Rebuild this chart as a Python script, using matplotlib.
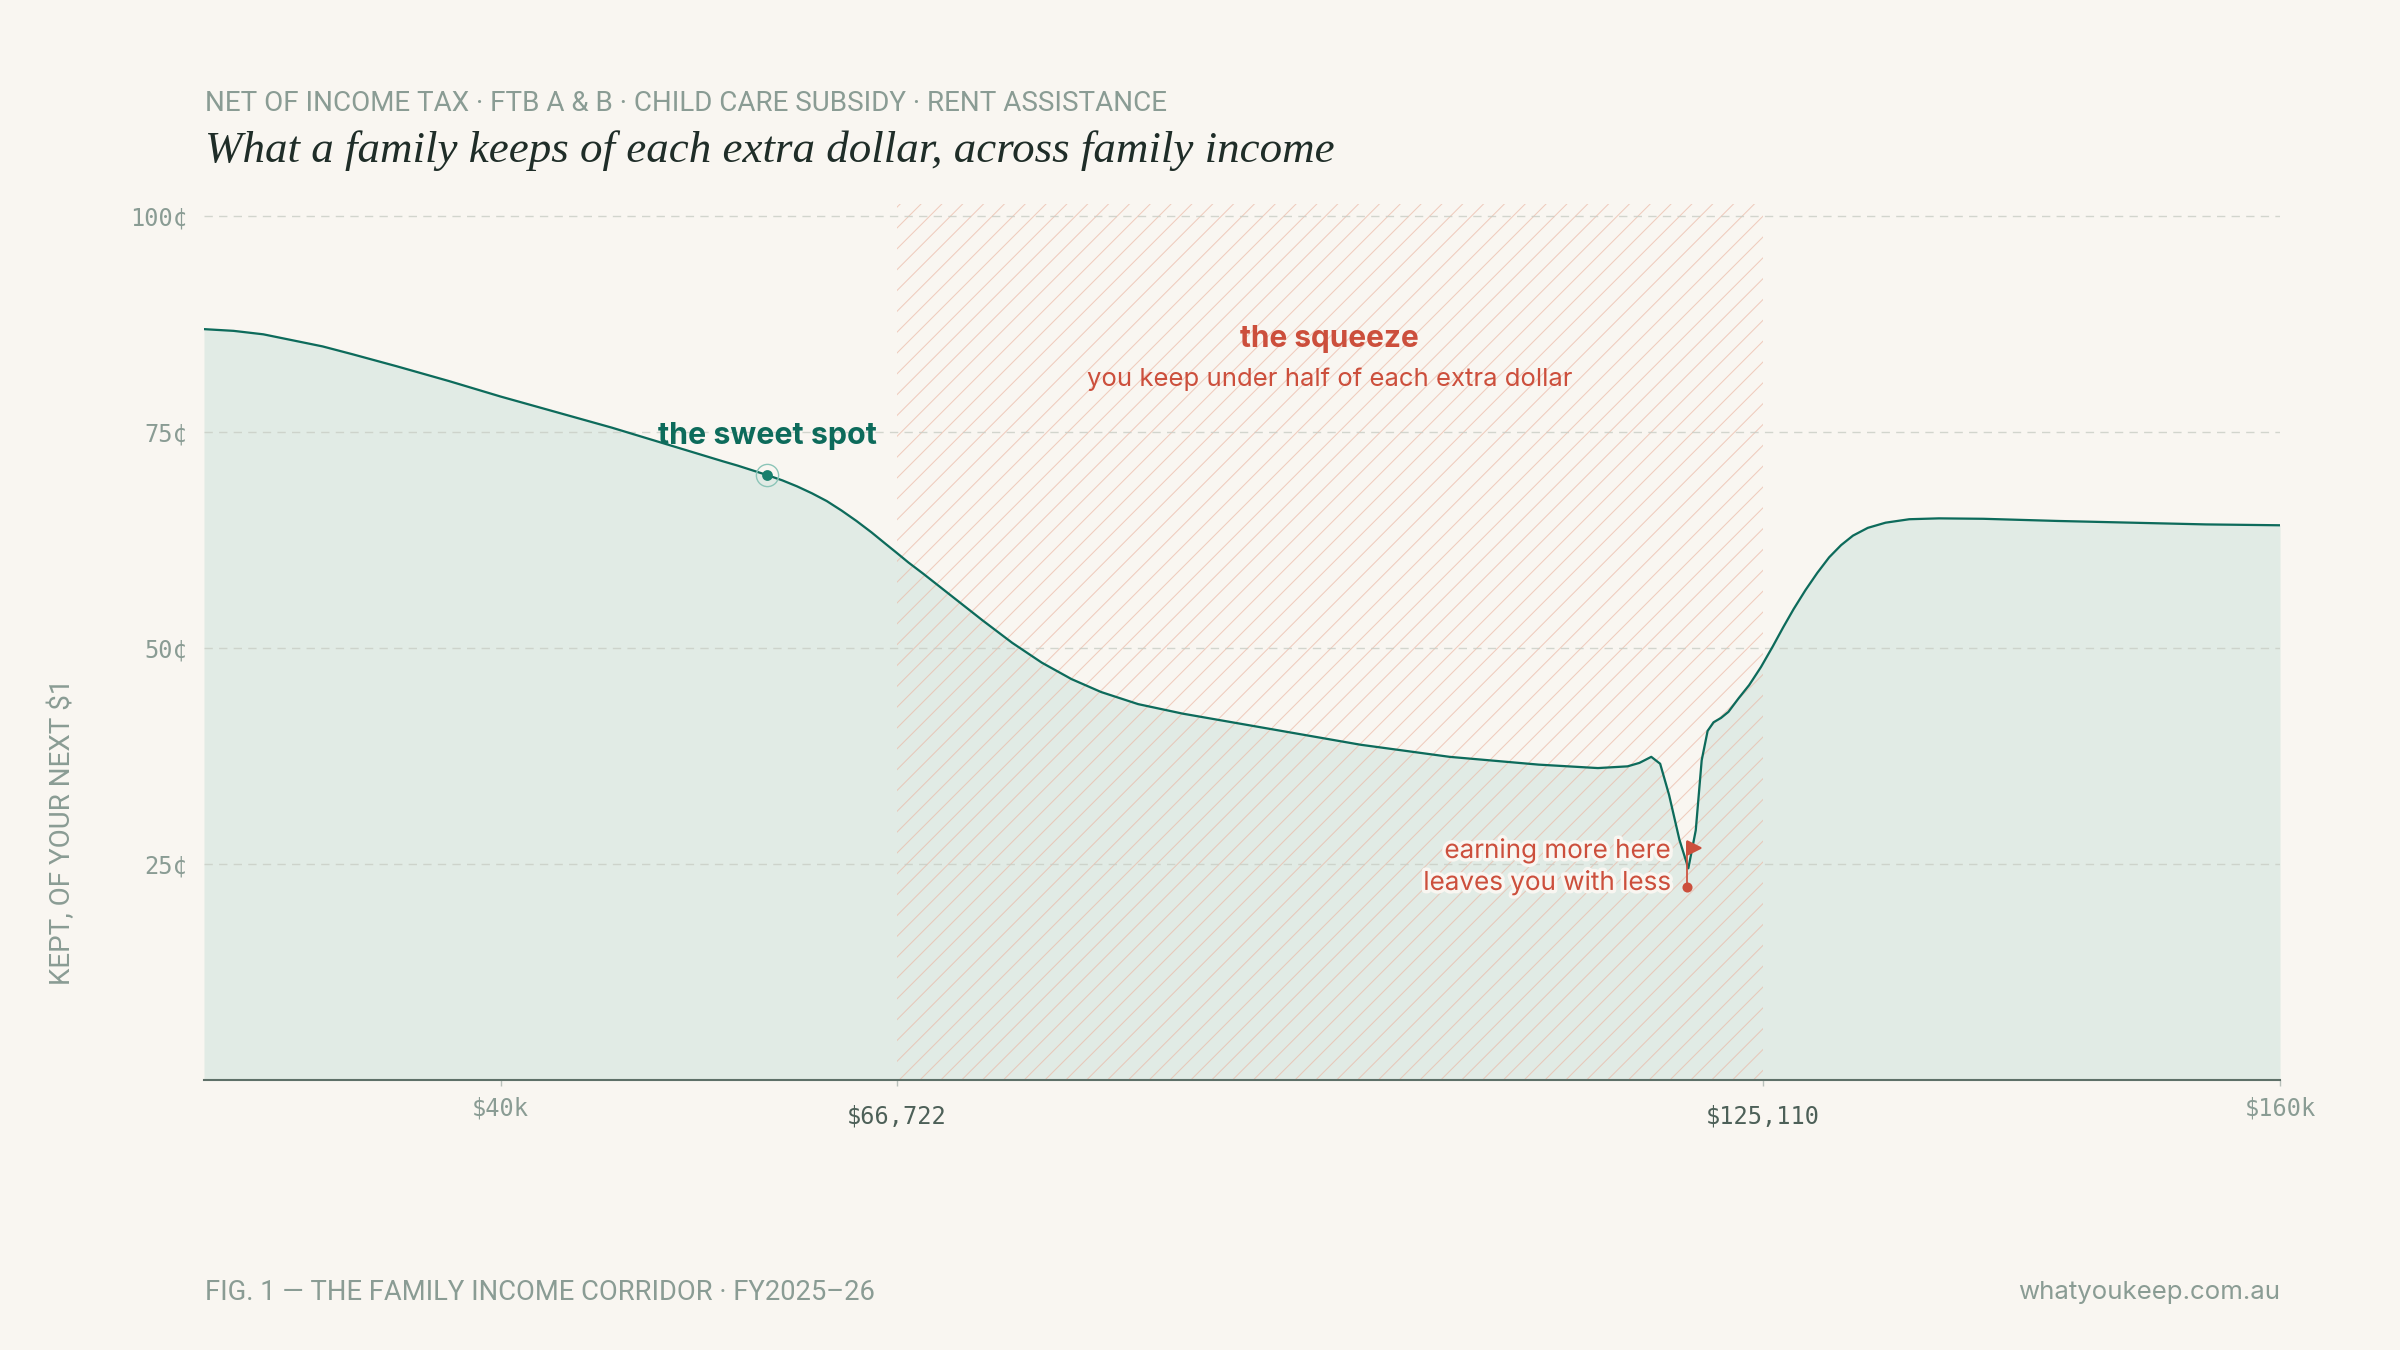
import matplotlib
matplotlib.use("Agg")
import matplotlib.pyplot as plt
import matplotlib.patheffects as pe
from matplotlib.transforms import offset_copy

# --- data ------------------------------------------------------------------
income = [20000, 22000, 24000, 26000, 28000, 30000, 33000, 36500, 40000, 42500,
          45000, 47500, 50000, 52500, 55000, 56000, 57000, 58000, 59000, 60000,
          61000, 62000, 63000, 64000, 65000, 66000, 66722, 67500, 68500, 70500,
          72500, 74500, 76500, 78500, 80500, 83000, 86000, 90000, 94000, 98000,
          104000, 110000, 114000, 116000, 116800, 117600, 118200, 118800, 119500,
          120100, 120600, 121000, 121400, 121800, 122300, 122800, 123500, 124200,
          125000, 125800, 126500, 127200, 128000, 128800, 129600, 130400, 131200,
          132200, 133400, 135000, 137000, 140000, 145000, 150000, 155000, 160000]
kept = [86.9, 86.7, 86.3, 85.6, 84.9, 84.0, 82.6, 80.9, 79.1, 77.9,
        76.7, 75.5, 74.2, 72.9, 71.6, 71.1, 70.55, 70.0, 69.4, 68.7,
        67.9, 67.0, 65.9, 64.7, 63.4, 62.0, 61.0, 59.9, 58.6, 55.9,
        53.2, 50.6, 48.3, 46.4, 44.9, 43.5, 42.4, 41.2, 40.0, 38.8,
        37.4, 36.5, 36.1, 36.3, 36.7, 37.4, 36.6, 33.0, 27.8,
        24.5, 28.9, 37.0, 40.4, 41.4, 41.9, 42.6, 44.2, 45.7,
        47.8, 50.2, 52.4, 54.5, 56.7, 58.7, 60.5, 61.9, 63.0,
        63.9, 64.5, 64.9, 65.0, 64.95, 64.7, 64.5, 64.3, 64.2]

squeeze_start = 66722
squeeze_end = 125110
sweet_x, sweet_y = 58000, 70.0
flag_x, flag_bottom, flag_top = 120000, 22.3, 27.4

x_ticks = [40000, 66722, 125110, 160000]
x_labels = ["$40k", "$66,722", "$125,110", "$160k"]
y_ticks = [25, 50, 75, 100]
y_labels = ["25¢", "50¢", "75¢", "100¢"]

# --- style ------------------------------------------------------------------
bg = "#f9f6f1"
teal = "#0d6b5b"
fill_green = "#e1ebe5"
coral = "#cc4f3c"
muted = "#8a9c94"
dark_tick = "#4d6058"
narrow = ["Roboto", "DejaVu Sans"]
sans = ["Inter", "DejaVu Sans"]
mono = ["DejaVu Sans Mono"]

plt.rcParams["hatch.linewidth"] = 0.6

fig = plt.figure(figsize=(19.2, 10.8), dpi=125, facecolor=bg)
ax = fig.add_axes([0.085, 0.2, 0.865, 0.649])
ax.set_facecolor(bg)

ax.fill_between(income, kept, 0, color=fill_green, lw=0, zorder=1)
ax.axvspan(squeeze_start, squeeze_end, facecolor="none", edgecolor="#eab5a2",
           hatch="//", lw=0, alpha=0.65, zorder=1.2)
ax.plot(income, kept, color=teal, lw=1.3, zorder=3)

ax.set_xlim(20000, 160000)
ax.set_ylim(0, 101.4)

for s in ["left", "right", "top"]:
    ax.spines[s].set_visible(False)
ax.spines["bottom"].set_color("#5e7068")
ax.spines["bottom"].set_linewidth(1.2)

ax.set_axisbelow("line")
ax.set_yticks(y_ticks)
ax.set_yticklabels(y_labels, family=mono, fontsize=13.6, color=muted)
ax.tick_params(axis="y", length=0, pad=9.6)
ax.yaxis.grid(True, linestyle=(0, (6, 4.5)), color="#c9cdc5", lw=0.8, alpha=0.8)

ax.set_xticks(x_ticks)
ax.set_xticklabels(x_labels, family=mono, fontsize=13.6)
ax.tick_params(axis="x", color="#b9c1bb", width=0.8)
for tick, lab in zip(ax.xaxis.get_major_ticks(), x_labels):
    if lab in ("$66,722", "$125,110"):
        tick.tick1line.set_markersize(5.6)
        tick.set_pad(10.6)
        tick.label1.set_color(dark_tick)
    else:
        tick.tick1line.set_markersize(3.6)
        tick.set_pad(6.2)
        tick.label1.set_color(muted)

# sweet spot
ax.plot(sweet_x, sweet_y, "o", ms=12.8, mfc="none", mec="#8cc5b8", mew=0.8, zorder=4)
ax.plot(sweet_x, sweet_y, "o", ms=5.2, color="#18806d", zorder=5)
ax.text(sweet_x, 73.6, "the sweet spot", ha="center", va="baseline",
        family=sans, fontweight="bold", fontsize=17.5, color=teal, zorder=6)

# the squeeze
mid = (squeeze_start + squeeze_end) / 2
ax.text(mid, 84.8, "the squeeze", ha="center", va="baseline",
        family=sans, fontweight="bold", fontsize=17.2, color=coral)
ax.text(mid, 80.3, "you keep under half of each extra dollar", ha="center",
        va="baseline", family=sans, fontsize=14.8, color=coral)

# flag at the cliff
halo = [pe.withStroke(linewidth=4, foreground=bg)]
ax.plot([flag_x, flag_x], [flag_bottom, flag_top], color=coral, lw=1.0, zorder=6)
ax.plot(flag_x, flag_bottom, "o", ms=4.8, color=coral, zorder=6)
ax.plot(flag_x, flag_top - 0.6, ">", ms=8, color=coral, zorder=6,
        transform=offset_copy(ax.transData, fig=fig, x=4, y=0, units="points"))
ax.text(118950, 25.7, "earning more here", ha="right", va="baseline",
        family=sans, fontsize=15, color=coral, path_effects=halo, zorder=7)
ax.text(118950, 22.0, "leaves you with less", ha="right", va="baseline",
        family=sans, fontsize=15, color=coral, path_effects=halo, zorder=7)

# titles and footer
fig.text(0.0854, 0.918, "NET OF INCOME TAX · FTB A & B · CHILD CARE SUBSIDY · RENT ASSISTANCE",
         family=narrow, fontsize=16.0, color=muted, va="baseline")
fig.text(0.0854, 0.8802, "What a family keeps of each extra dollar, across family income",
         family="Liberation Serif", style="italic", fontsize=25.9, color="#1f2d28",
         va="baseline")
fig.text(62 / 2400, 1 - 832 / 1350, "KEPT, OF YOUR NEXT $1", rotation=90,
         ha="center", va="center", family=narrow, fontsize=16.0, color=muted)
fig.text(0.0854, 0.037, "FIG. 1 — THE FAMILY INCOME CORRIDOR · FY2025–26",
         family=narrow, fontsize=15.75, color=muted, va="baseline")
fig.text(0.95, 0.0378, "whatyoukeep.com.au", ha="right", va="baseline",
         family=sans, fontsize=14.9, color=muted)

fig.savefig("out.png", dpi=125, facecolor=bg)
